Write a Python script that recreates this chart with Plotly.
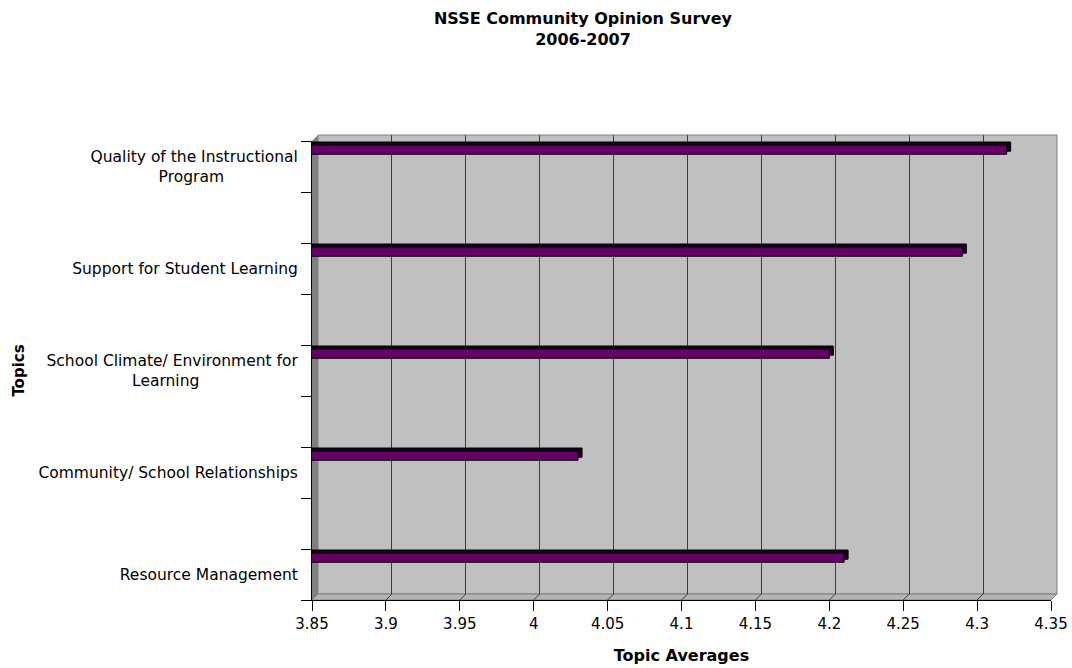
import plotly.graph_objects as go

# Survey topics (top to bottom) and their average scores
topics = [
    "Quality of the Instructional<br>Program" + "\u00a0" * 15,
    "Support for Student Learning",
    "School Climate/ Environment for<br>Learning" + "\u00a0" * 20,
    "Community/ School Relationships",
    "Resource Management",
]
averages = [4.32, 4.29, 4.20, 4.03, 4.21]

x_min, x_max, x_step = 3.85, 4.35, 0.05
x_ticks = [round(x_min + i * x_step, 2) for i in range(11)]
positions = list(range(len(topics)))

# Figure geometry (pixels)
W, H = 1072, 668
ML, MR, MT, MB = 312, 15, 135, 68
PW, PH = W - ML - MR, H - MT - MB
DEPTH = 6                      # 3-D depth offset of the back wall
fx, fy = DEPTH / PW, DEPTH / PH

BAR_COLOR = "#660066"
SIDE_COLOR = "#1a001a"
WALL = "#c0c0c0"
WALL_DARK = "#808080"
GRID = "#3c3c3c"
FONT = "DejaVu Sans"

# shift of the bar's top/side face, in data units (4 px to the right)
side_dx = 4 / (PW - DEPTH) * (x_max - x_min)

fig = go.Figure()

# back-wall subplot: only carries the vertical gridlines
fig.add_trace(go.Scatter(x=[], y=[], xaxis="x", yaxis="y",
                         showlegend=False, hoverinfo="skip"))

# dark top / side face of the 3-D bars
fig.add_trace(go.Bar(
    y=positions, x=[v + side_dx for v in averages], orientation="h",
    xaxis="x2", yaxis="y2", offset=-0.24, width=0.09,
    marker=dict(color=SIDE_COLOR, line=dict(color="black", width=1)),
    showlegend=False, hoverinfo="skip",
))
# front face of the bars
fig.add_trace(go.Bar(
    y=positions, x=averages, orientation="h",
    xaxis="x2", yaxis="y2", offset=-0.21, width=0.09,
    marker=dict(color=BAR_COLOR, line=dict(color="black", width=1)),
    showlegend=False, name="Topic Averages",
))

shapes = [
    # back wall
    dict(type="rect", xref="paper", yref="paper", x0=fx, x1=1, y0=fy, y1=1,
         fillcolor=WALL, line=dict(color=WALL_DARK, width=1), layer="below"),
    # left side wall
    dict(type="path", xref="paper", yref="paper",
         path=f"M 0 0 L 0 {1 - fy} L {fx} 1 L {fx} {fy} Z",
         fillcolor=WALL_DARK, line=dict(width=0), layer="below"),
    # floor
    dict(type="path", xref="paper", yref="paper",
         path=f"M 0 0 L {fx} {fy} L 1 {fy} L {1 - fx} 0 Z",
         fillcolor="#b4b4b4", line=dict(color=WALL_DARK, width=1), layer="below"),
]
# gridline continuation across the floor
for v in x_ticks[1:-1]:
    px = (v - x_min) / (x_max - x_min) * (1 - fx)
    shapes.append(dict(type="line", xref="paper", yref="paper",
                       x0=px, y0=0, x1=px + fx, y1=fy,
                       line=dict(color=GRID, width=1), layer="below"))

minor_vals = sorted({p + d for p in positions for d in (-0.25, 0.25)})

fig.update_layout(
    width=W, height=H, autosize=False,
    margin=dict(l=ML, r=MR, t=MT, b=MB, autoexpand=False),
    paper_bgcolor="white", plot_bgcolor="rgba(0,0,0,0)",
    barmode="overlay",
    font=dict(family=FONT, size=15, color="black"),
    title=dict(text="<b>NSSE Community Opinion Survey<br>2006-2007</b>",
               x=583 / W, xanchor="center", xref="container",
               y=1 - 24 / H, yanchor="top", yref="container",
               font=dict(family=FONT, size=16, color="black")),
    xaxis=dict(domain=[fx, 1], anchor="y", range=[x_min, x_max],
               tickmode="array", tickvals=x_ticks[1:-1], automargin=False,
               showticklabels=False, ticks="", showgrid=True,
               gridcolor=GRID, gridwidth=1, zeroline=False, showline=False),
    yaxis=dict(domain=[fy, 1], anchor="x", range=[0, 1], visible=False,
               automargin=False),
    xaxis2=dict(domain=[0, 1 - fx], anchor="y2", range=[x_min, x_max],
                tickmode="array", tickvals=x_ticks, automargin=False,
                ticktext=[f"{v:g}" for v in x_ticks],
                ticks="outside", ticklen=10, tickcolor="black", tickwidth=1,
                showline=True, linecolor="black", linewidth=1,
                showgrid=False, zeroline=False,
                tickfont=dict(family=FONT, size=15, color="black"),
                title=dict(text="<b>Topic Averages</b>", standoff=17,
                           font=dict(family=FONT, size=16, color="black"))),
    yaxis2=dict(domain=[0, 1 - fy], anchor="x2", automargin=False,
                range=[len(positions) - 0.75, -0.25],
                tickmode="array", tickvals=positions, ticktext=topics,
                ticks="outside", ticklen=10, tickcolor="rgba(0,0,0,0)",
                minor=dict(tickmode="array", tickvals=minor_vals,
                           ticks="outside", ticklen=10, tickcolor="black",
                           tickwidth=1, showgrid=False),
                showline=True, linecolor="black", linewidth=1,
                showgrid=False, zeroline=False,
                tickfont=dict(family=FONT, size=15.5, color="black"),
                title=dict(text="<b>Topics</b>", standoff=10,
                           font=dict(family=FONT, size=15, color="black"))),
    shapes=shapes,
)

fig.write_html("out.html")
